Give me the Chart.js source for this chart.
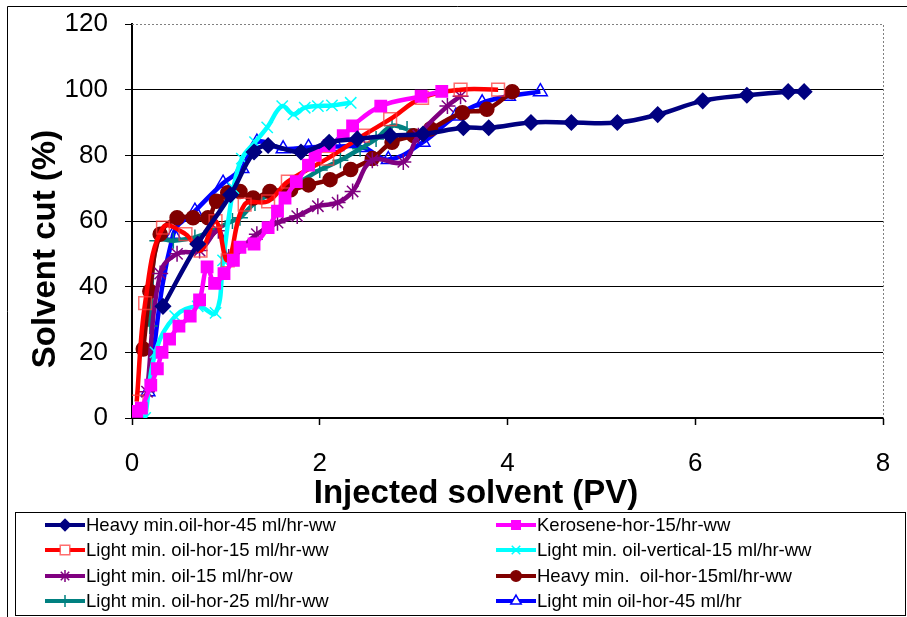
<!DOCTYPE html>
<html>
<head>
<meta charset="utf-8">
<script src="https://cdn.jsdelivr.net/npm/chart.js@4.4.1/dist/chart.umd.min.js"></script>
<style>
  html, body { margin: 0; padding: 0; background: #fff; }
  canvas { display: block; }
</style>
</head>
<body>
<canvas id="chart" width="907" height="617"></canvas>
<script>
// Datos: [PV inyectado, corte de solvente %]
const heavyHor45 = [[0.33,34],[0.7,53],[1.05,68],[1.3,81],[1.45,83],[1.8,81],[2.1,84],[2.4,85],[2.75,86],[3.1,86.5],[3.53,88.4],[3.8,88.4],[4.25,90],[4.68,90],[5.17,90],[5.6,92.4],[6.08,96.6],[6.55,98.3],[6.99,99.4],[7.16,99.4]]
const keroseneHor15 = [[0.05,2],[0.1,3],[0.2,10],[0.27,15],[0.32,20],[0.4,24],[0.5,28],[0.62,31],[0.72,36],[0.8,46],[0.88,41],[0.98,44],[1.08,48],[1.15,52],[1.3,53],[1.45,58],[1.55,63],[1.63,67],[1.75,72],[1.88,77],[1.95,80],[2.1,83],[2.25,86],[2.35,89],[2.65,95],[3.08,98],[3.3,99.5]]
const lightHor15 = [[0.05,5],[0.14,35],[0.33,58],[0.57,56],[0.73,51],[0.89,60],[1.02,48],[1.2,65],[1.45,66],[1.66,72],[2.08,79],[2.46,86],[2.75,91],[3.09,97.5],[3.5,100],[3.9,100]]
const lightVertical15 = [[0.14,0],[0.25,20],[0.46,31],[0.7,34],[0.89,32],[0.97,48],[1.08,70],[1.17,79],[1.31,84],[1.44,88.5],[1.6,95],[1.72,92.5],[1.84,94.5],[1.98,95],[2.13,95.2],[2.33,96]]
const light15ow = [[0.16,8],[0.3,44],[0.48,50],[0.72,51],[0.92,57],[1.03,49],[1.33,56],[1.55,59.5],[1.76,61.5],[1.98,64.5],[2.19,65.6],[2.35,69],[2.56,78.5],[2.89,78],[3.05,86],[3.36,95],[3.5,98]]
const heavyHor15 = [[0.12,21],[0.19,38.6],[0.3,56],[0.48,61],[0.65,61],[0.81,61],[0.9,66],[1.02,68.6],[1.15,69],[1.29,67],[1.47,69],[1.69,69.5],[1.88,71],[2.11,72.6],[2.33,75.7],[2.56,79],[2.77,84],[3.0,86],[3.18,88],[3.52,93],[3.78,94],[4.05,99.4]]
const lightHor25 = [[0.19,28],[0.27,54],[0.44,54],[0.67,55],[0.85,57],[1.07,60],[1.15,61],[1.31,65.5],[1.5,68.5],[1.76,71.5],[2.0,75.5],[2.22,78.5],[2.43,82],[2.6,85],[2.77,89],[2.93,88]]
const lightHor45 = [[0.17,8],[0.44,56],[0.67,63],[0.97,71.5],[1.17,76],[1.33,84],[1.61,82],[1.88,82.4],[2.18,82.7],[2.46,82.4],[2.73,78.7],[3.1,84],[3.45,92],[3.73,96],[4.01,98],[4.35,99.4]]

const seriesNames = [
  "Heavy min.oil-hor-45 ml/hr-ww",
  "Kerosene-hor-15/hr-ww",
  "Light min. oil-hor-15 ml/hr-ww",
  "Light min. oil-vertical-15 ml/hr-ww",
  "Light min. oil-15 ml/hr-ow",
  "Heavy min.  oil-hor-15ml/hr-ww",
  "Light min. oil-hor-25 ml/hr-ww",
  "Light min oil-hor-45 ml/hr",
]
const seriesData = [heavyHor45, keroseneHor15, lightHor15, lightVertical15, light15ow, heavyHor15, lightHor25, lightHor45]
const yTicks = [0, 20, 40, 60, 80, 100, 120]
const xTicks = [0, 2, 4, 6, 8]

// Estilos por serie
const styles = [
  { color: "#000080", point: "rectRot", r: 7.5, fill: "#000080", edge: "#000080" },
  { color: "#FF00FF", point: "rect", r: 8, fill: "#FF00FF", edge: "#FF00FF" },
  { color: "#FF0000", point: "rect", r: 9, fill: "rgba(0,0,0,0)", edge: "rgba(255,60,60,0.75)" },
  { color: "#00FFFF", point: "crossRot", r: 8, fill: "#00FFFF", edge: "#00FFFF" },
  { color: "#800080", point: "star", r: 8, fill: "#800080", edge: "#800080" },
  { color: "#800000", point: "circle", r: 7, fill: "#800000", edge: "#800000" },
  { color: "#008080", point: "cross", r: 8, fill: "#008080", edge: "#008080" },
  { color: "#0000FF", point: "triangle", r: 8, fill: "rgba(0,0,0,0)", edge: "#0000FF" },
]

const FONT = "'Liberation Sans', Arial, sans-serif"

const datasets = seriesData.map((pts, i) => ({
  label: seriesNames[i],
  data: pts.map(([x, y]) => ({ x, y })),
  borderColor: styles[i].color,
  borderWidth: 4.5,
  tension: 0.4,
  pointStyle: styles[i].point,
  pointRadius: styles[i].r,
  pointBackgroundColor: styles[i].fill,
  pointBorderColor: styles[i].edge,
  pointBorderWidth: 1.5,
  showLine: true,
  fill: false,
}))

// Marco, títulos de ejes y leyenda dibujados a mano
const framePlugin = {
  id: "frame",
  beforeDatasetsDraw(chart) {
    const { ctx, chartArea: a } = chart
    ctx.save()
    ctx.strokeStyle = "#808080"
    ctx.lineWidth = 1
    ctx.setLineDash([2, 2])
    ctx.beginPath()
    ctx.moveTo(a.left, a.top + 0.5)
    ctx.lineTo(a.right + 0.5, a.top + 0.5)
    ctx.lineTo(a.right + 0.5, a.bottom)
    ctx.stroke()
    ctx.restore()
  },
  afterDraw(chart) {
    const { ctx } = chart
    ctx.save()
    // borde exterior
    ctx.strokeStyle = "#000"
    ctx.lineWidth = 1
    ctx.beginPath()
    ctx.moveTo(907, 6.5)
    ctx.lineTo(7.5, 6.5)
    ctx.lineTo(7.5, 617)
    ctx.stroke()

    // títulos
    ctx.fillStyle = "#000"
    ctx.font = "bold 33px " + FONT
    ctx.textAlign = "center"
    ctx.textBaseline = "middle"
    ctx.fillText("Injected solvent (PV)", 476, 494)
    ctx.save()
    ctx.translate(46, 249)
    ctx.rotate(-Math.PI / 2)
    ctx.fillText("Solvent cut (%)", 0, 0)
    ctx.restore()

    // leyenda
    ctx.strokeStyle = "#000"
    ctx.lineWidth = 1
    ctx.strokeRect(15.5, 512.5, 890, 103)
    const rowsY = [525, 550, 576, 601]
    const colX = [45, 496]
    ctx.font = "18.5px " + FONT
    ctx.textAlign = "left"
    chart.data.datasets.forEach((ds, i) => {
      const x = colX[i % 2]
      const y = rowsY[Math.floor(i / 2)]
      ctx.strokeStyle = ds.borderColor
      ctx.lineWidth = 4
      ctx.setLineDash([])
      ctx.beginPath()
      ctx.moveTo(x, y)
      ctx.lineTo(x + 40, y)
      ctx.stroke()
      const open = ds.pointBackgroundColor === "rgba(0,0,0,0)"
      ctx.fillStyle = open ? "#fff" : ds.pointBackgroundColor
      ctx.strokeStyle = ds.pointBorderColor
      ctx.lineWidth = ds.pointBorderWidth
      Chart.helpers.drawPoint(ctx, { pointStyle: ds.pointStyle, radius: ds.pointRadius * 0.75, borderWidth: ds.pointBorderWidth, rotation: 0 }, x + 20, y)
      ctx.fillStyle = "#000"
      ctx.fillText(ds.label, x + 41, y + 1)
    })
    ctx.restore()
  },
}

new Chart(document.getElementById("chart"), {
  type: "scatter",
  data: { datasets },
  options: {
    responsive: false,
    animation: false,
    devicePixelRatio: 1,
    layout: { padding: { top: 24, right: 24, bottom: 109, left: 0 } },
    plugins: {
      legend: { display: false },
      tooltip: { enabled: false },
    },
    scales: {
      x: {
        type: "linear",
        min: 0,
        max: 8,
        afterBuildTicks: (scale) => { scale.ticks = xTicks.map((v) => ({ value: v })) },
        afterFit: (scale) => {
          scale.height = 90
          scale.paddingLeft = 0
          scale.paddingRight = 0
        },
        border: { color: "#000", width: 2 },
        grid: { drawOnChartArea: false, drawTicks: true, tickLength: 7, tickColor: "#000", tickWidth: 1.5 },
        ticks: { color: "#000", font: { family: FONT, size: 26 }, padding: 23, maxRotation: 0 },
      },
      y: {
        min: 0,
        max: 120,
        afterBuildTicks: (scale) => { scale.ticks = yTicks.map((v) => ({ value: v })) },
        afterFit: (scale) => {
          scale.width = 132
          scale.paddingTop = 0
          scale.paddingBottom = 0
        },
        border: { color: "#000", width: 2 },
        grid: {
          color: (c) => (c.tick && c.tick.value === 120 ? "rgba(0,0,0,0)" : "#000"),
          tickColor: "#000",
          tickLength: 7,
          lineWidth: 1,
        },
        ticks: { color: "#000", font: { family: FONT, size: 26 }, padding: 17 },
      },
    },
  },
  plugins: [framePlugin],
})
</script>
</body>
</html>
